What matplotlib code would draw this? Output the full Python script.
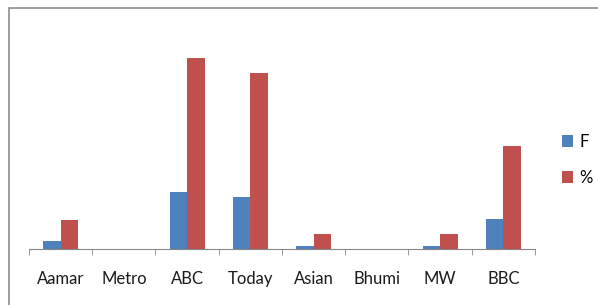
import numpy as np
import matplotlib.pyplot as plt
from matplotlib.patches import Rectangle

categories = ['Aamar', 'Metro', 'ABC', 'Today', 'Asian', 'Bhumi', 'MW', 'BBC']
f_values = [1.5, 0, 10.8, 9.8, 0.6, 0, 0.6, 5.7]
pct_values = [5.5, 0, 36, 33.2, 2.8, 0, 2.8, 19.4]

plt.rcParams['font.family'] = ['Lato', 'DejaVu Sans']

fig = plt.figure(figsize=(5.98, 3.05), dpi=100)
ax = fig.add_axes([0.0485, 0.1836, 0.8461, 0.6951])

x = np.arange(len(categories))
w = 0.277
ax.bar(x - w / 2, f_values, w, color='#4F81BD', label='F')
ax.bar(x + w / 2, pct_values, w, color='#C0504D', label='%')

ax.set_xlim(-0.5, len(categories) - 0.5)
ax.set_ylim(0, 40)
ax.set_yticks([])
for s in ['top', 'right', 'left']:
    ax.spines[s].set_visible(False)
ax.spines['bottom'].set_color('#868686')

ax.set_xticks(x)
ax.set_xticklabels(categories, fontsize=12, color='#1a1a1a')
ax.tick_params(axis='x', which='major', length=0, pad=16)
ax.set_xticks(np.arange(-0.5, len(categories), 1), minor=True)
ax.tick_params(axis='x', which='minor', length=4.5, color='#868686', direction='out')

fig.legend(loc='center left', bbox_to_anchor=(0.939, 0.475), frameon=False,
           handlelength=0.7, handleheight=0.7, handletextpad=0.35,
           labelspacing=1.2, fontsize=12, borderaxespad=0, borderpad=0)

# outer chart border
fig.patches.append(Rectangle((9 / 598, -0.1), 1.2, (305 - 8) / 305 + 0.1,
                             transform=fig.transFigure, fill=False,
                             edgecolor='#8c8c8c', linewidth=1.2))

fig.savefig('out.png', dpi=100)
